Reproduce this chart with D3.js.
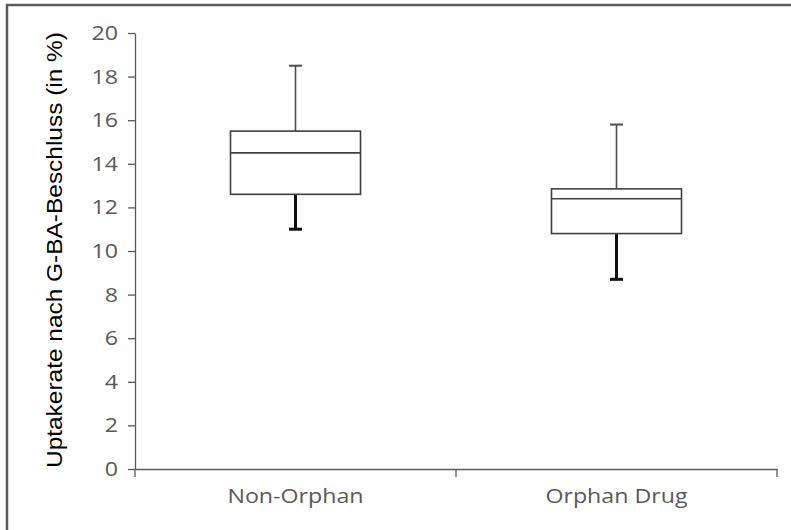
<!DOCTYPE html>
<html>
<head>
<meta charset="utf-8">
<script src="https://cdn.jsdelivr.net/npm/d3@7"></script>
<style>
  body { margin: 0; background: #fff; }
  svg { display: block; }
</style>
</head>
<body>
<script>
// data
var categories = ["Non-Orphan", "Orphan Drug"];
var whiskerLow = [11.0, 8.7];
var q1 = [12.6, 10.8];
var median = [14.5, 12.4];
var q3 = [15.5, 12.85];
var whiskerHigh = [18.5, 15.8];
var yTicks = [0, 2, 4, 6, 8, 10, 12, 14, 16, 18, 20];

var svgWidth = 791, svgHeight = 530;
var margin = { top: 33, right: 14, bottom: 61, left: 135 };
var chartWidth = svgWidth - margin.left - margin.right;
var chartHeight = svgHeight - margin.top - margin.bottom;
var labelStretch = 1.16; // the original's axis font runs wide

var svg = d3.select("body").append("svg")
    .attr("width", svgWidth)
    .attr("height", svgHeight);

svg.append("rect").attr("width", svgWidth).attr("height", svgHeight).attr("fill", "#fff");

// frame (only left and top edges show in the picture)
svg.append("path")
    .attr("d", "M7,530 V5 H791")
    .attr("fill", "none")
    .attr("stroke", "#5a5a5a")
    .attr("stroke-width", 2.5);

var chartGroup = svg.append("g")
    .attr("transform", `translate(${margin.left}, ${margin.top})`);

var y = d3.scaleLinear().domain([0, 20]).range([chartHeight, 0]);
var x = d3.scaleBand().domain(categories).range([0, chartWidth]).padding(0);

// y axis
var yAxis = chartGroup.append("g")
    .call(d3.axisLeft(y).tickValues(yTicks).tickSize(7).tickSizeOuter(0));
yAxis.select(".domain").attr("stroke", "#595959").attr("stroke-width", 1.3);
yAxis.selectAll(".tick line").attr("stroke", "#595959").attr("stroke-width", 1.3);
yAxis.selectAll(".tick text")
    .attr("x", -17 / labelStretch)
    .attr("transform", "scale(" + labelStretch + ",1)")
    .attr("fill", "#595959")
    .attr("font-family", "Open Sans")
    .attr("font-size", 20);

// x axis: line, boundary ticks, centred labels
var xAxis = chartGroup.append("g")
    .attr("transform", "translate(0," + chartHeight + ")")
    .call(d3.axisBottom(x).tickSize(0).tickSizeOuter(0).tickPadding(20));
xAxis.select(".domain").attr("stroke", "#595959").attr("stroke-width", 1.3);
xAxis.selectAll(".tick text")
    .attr("transform", "scale(" + labelStretch + ",1)")
    .attr("fill", "#595959")
    .attr("font-family", "Open Sans")
    .attr("font-size", 20);

var bounds = [x(categories[0])].concat(categories.map(function (c) { return x(c) + x.bandwidth(); }));
xAxis.selectAll("line.bound")
    .data(bounds)
    .enter()
    .append("line")
    .attr("class", "bound")
    .attr("x1", function (d) { return d; })
    .attr("x2", function (d) { return d; })
    .attr("y1", 0)
    .attr("y2", 8)
    .attr("stroke", "#595959")
    .attr("stroke-width", 1.3);

// boxes
var boxW = x.bandwidth() * 0.405;
var capW = 13;
var boxes = chartGroup.append("g")
    .selectAll("g")
    .data(categories)
    .enter()
    .append("g")
    .attr("transform", function (d) { return "translate(" + (x(d) + x.bandwidth() / 2) + ",0)"; });

// upper whisker
boxes.append("line")
    .attr("x1", 0).attr("x2", 0)
    .attr("y1", function (d, i) { return y(whiskerHigh[i]); })
    .attr("y2", function (d, i) { return y(q3[i]); })
    .attr("stroke", "#4d4d4d")
    .attr("stroke-width", 1.6);
boxes.append("line")
    .attr("x1", -capW / 2).attr("x2", capW / 2)
    .attr("y1", function (d, i) { return y(whiskerHigh[i]); })
    .attr("y2", function (d, i) { return y(whiskerHigh[i]); })
    .attr("stroke", "#4d4d4d")
    .attr("stroke-width", 2);

// lower whisker
boxes.append("line")
    .attr("x1", 0).attr("x2", 0)
    .attr("y1", function (d, i) { return y(q1[i]); })
    .attr("y2", function (d, i) { return y(whiskerLow[i]); })
    .attr("stroke", "#111")
    .attr("stroke-width", 3);
boxes.append("line")
    .attr("x1", -capW / 2).attr("x2", capW / 2)
    .attr("y1", function (d, i) { return y(whiskerLow[i]); })
    .attr("y2", function (d, i) { return y(whiskerLow[i]); })
    .attr("stroke", "#111")
    .attr("stroke-width", 3);

// box and median
boxes.append("rect")
    .attr("x", -boxW / 2)
    .attr("width", boxW)
    .attr("y", function (d, i) { return y(q3[i]); })
    .attr("height", function (d, i) { return y(q1[i]) - y(q3[i]); })
    .attr("fill", "#fff")
    .attr("stroke", "#404040")
    .attr("stroke-width", 1.6);
boxes.append("line")
    .attr("x1", -boxW / 2).attr("x2", boxW / 2)
    .attr("y1", function (d, i) { return y(median[i]); })
    .attr("y2", function (d, i) { return y(median[i]); })
    .attr("stroke", "#404040")
    .attr("stroke-width", 1.6);

// y axis title
chartGroup.append("text")
    .attr("transform", "rotate(-90)")
    .attr("x", -(chartHeight / 2) + 1)
    .attr("y", -73)
    .style("text-anchor", "middle")
    .attr("font-family", "Liberation Sans")
    .attr("font-size", 22)
    .attr("textLength", 436)
    .attr("lengthAdjust", "spacingAndGlyphs")
    .attr("fill", "#000")
    .text("Uptakerate nach G-BA-Beschluss (in %)");
</script>
</body>
</html>
